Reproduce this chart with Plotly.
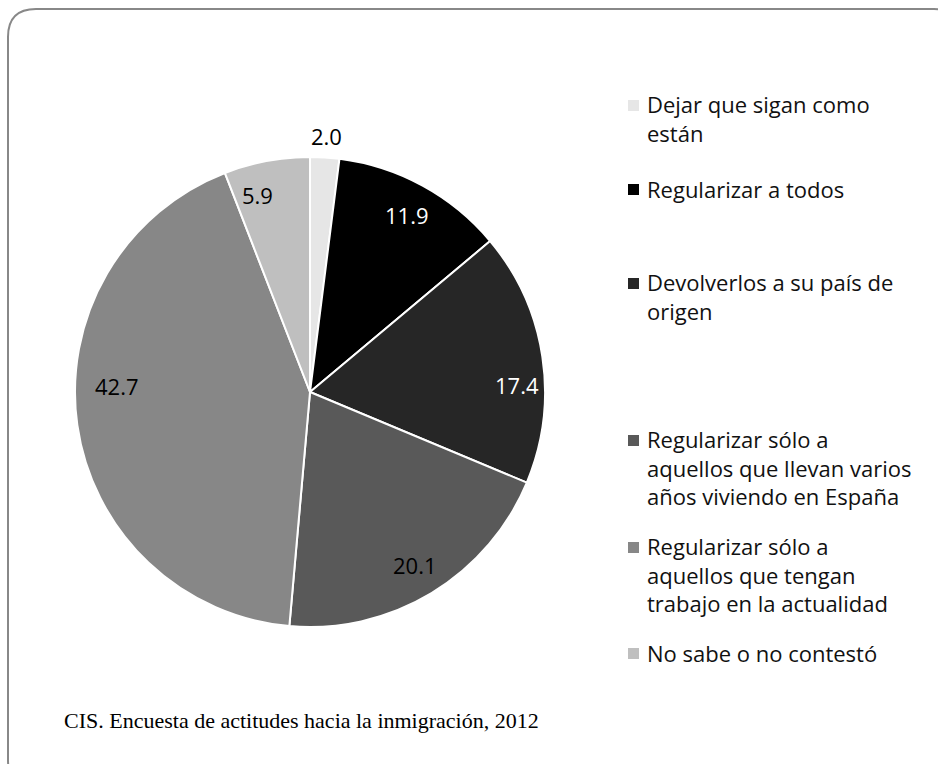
import math
import plotly.graph_objects as go

# ---- data ----
categories = [
    "Dejar que sigan como<br>están",
    "Regularizar a todos",
    "Devolverlos a su país de<br>origen",
    "Regularizar sólo a<br>aquellos que llevan varios<br>años viviendo en España",
    "Regularizar sólo a<br>aquellos que tengan<br>trabajo en la actualidad",
    "No sabe o no contestó",
]
values = [2.0, 11.9, 17.4, 20.1, 42.7, 5.9]
value_labels = ["2.0", "11.9", "17.4", "20.1", "42.7", "5.9"]
source_note = "CIS. Encuesta de actitudes hacia la inmigración, 2012"

# ---- style ----
colors = ["#e6e6e6", "#000000", "#262626", "#595959", "#878787", "#bfbfbf"]
label_colors = ["black", "white", "white", "black", "black", "black"]
label_radius = [1.09, 0.86, 0.88, 0.86, 0.82, 0.87]
label_nudge_deg = [0, 0, 6.6, 0, 10, -4.4]
legend_center_px = [105, 189, 283, 440, 547, 653]   # first-line centres
LEGEND_LINE = 27

W, H = 938, 764
CX, CY, R = 310, 392, 235
FONT = "'Open Sans', 'Noto Sans', sans-serif"


def px(x):
    return x / W


def py(y):
    return 1 - y / H


fig = go.Figure(
    go.Pie(
        values=values,
        labels=[c.replace("<br>", " ") for c in categories],
        sort=False,
        direction="clockwise",
        rotation=0,
        marker=dict(colors=colors, line=dict(color="white", width=2)),
        textinfo="none",
        hoverinfo="label+value",
        showlegend=False,
        domain=dict(x=[px(CX - R), px(CX + R)], y=[py(CY + R), py(CY - R)]),
    )
)

annotations = []
total = sum(values)
cum = 0.0
for v, lab, col, rr, nd in zip(values, value_labels, label_colors, label_radius, label_nudge_deg):
    mid = (cum + v / 2) / total * 360 + nd
    cum += v
    a = math.radians(mid)
    x = CX + rr * R * math.sin(a)
    y = CY - rr * R * math.cos(a)
    annotations.append(dict(
        x=px(x), y=py(y), xref="paper", yref="paper", text=lab, showarrow=False,
        font=dict(family=FONT, size=22, color=col), xanchor="center", yanchor="middle"))

shapes = []
for cat, col, yc in zip(categories, colors, legend_center_px):
    n = len(cat.split("<br>"))
    mid_y = yc + (n - 1) * LEGEND_LINE / 2
    annotations.append(dict(
        x=px(645), y=py(mid_y), xref="paper", yref="paper",
        text=cat, showarrow=False, align="left", xanchor="left", yanchor="middle",
        font=dict(family=FONT, size=22, color="#111111")))
    shapes.append(dict(
        type="rect", xref="paper", yref="paper",
        x0=px(628), x1=px(639), y0=py(yc + 6), y1=py(yc - 5),
        fillcolor=col, line=dict(width=0)))

annotations.append(dict(
    x=px(62), y=py(720), xref="paper", yref="paper", text=source_note, showarrow=False,
    xanchor="left", yanchor="middle",
    font=dict(family="'Liberation Serif', 'Times New Roman', serif", size=22, color="black")))

# rounded frame (partly outside the view)
L, T, Rt, B, rad = 8, 9, 962, 788, 28
path = (
    f"M {px(Rt)},{py(T + rad)} Q {px(Rt)},{py(T)} {px(Rt - rad)},{py(T)} "
    f"L {px(L + rad)},{py(T)} Q {px(L)},{py(T)} {px(L)},{py(T + rad)} "
    f"L {px(L)},{py(B - rad)} Q {px(L)},{py(B)} {px(L + rad)},{py(B)}"
)
shapes.append(dict(type="path", xref="paper", yref="paper", path=path,
                   line=dict(color="#888888", width=2)))

fig.update_layout(
    width=W, height=H,
    margin=dict(l=0, r=0, t=0, b=0),
    paper_bgcolor="white", plot_bgcolor="white",
    annotations=annotations, shapes=shapes,
)
fig.write_html("out.html", config={"displayModeBar": False},
               post_script="document.body.style.margin='0';")
